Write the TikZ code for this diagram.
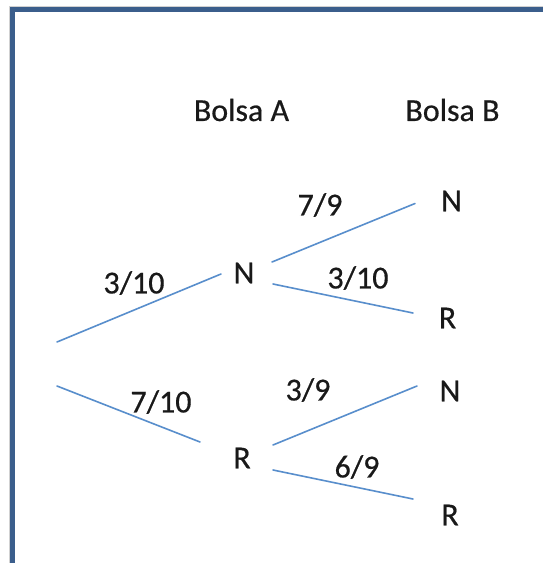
\documentclass[tikz,border=0pt]{standalone}
\usepackage{fontspec}
% regular Carlito, slightly emboldened for the labels
\setmainfont{Carlito}[BoldFont=Carlito, BoldFeatures={FakeBold=0.5}]
\definecolor{framecol}{RGB}{59,94,140}
\definecolor{branchcol}{RGB}{88,142,204}
\definecolor{textcol}{RGB}{25,25,25}
\tikzset{
  lbl/.style={inner sep=0pt, text=textcol, font=\fontsize{32}{38}\selectfont\bfseries},
  branch/.style={draw=branchcol, line width=1.6pt, line cap=round}
}
\begin{document}
\begin{tikzpicture}[x=1pt, y=-1pt]
  \useasboundingbox (0,0) rectangle (543,563);
  \fill[white] (0,0) rectangle (543,563);
  % outer frame: its top and left sides run off the page edges
  \draw[black!18, line width=1pt] (9.5,563) -- (9.5,6) -- (543,6);
  \draw[framecol, line width=5pt] (12.5,563) -- (12.5,9.5) -- (543,9.5);

  % column headings
  \node[lbl] (hA) at (241.5,110) {Bolsa A};
  \node[lbl] (hB) at (452.5,110) {Bolsa B};

  % outcomes
  \node[lbl] (aN) at (244,273) {N};
  \node[lbl] (aR) at (242,458) {R};
  \node[lbl] (bNN) at (451.5,201) {N};
  \node[lbl] (bNR) at (447.5,318) {R};
  \node[lbl] (bRN) at (450,391) {N};
  \node[lbl] (bRR) at (450,515) {R};

  % branch end points
  \coordinate (r1) at (57,342);
  \coordinate (r2) at (57,386);
  \coordinate (aNin) at (221,274);
  \coordinate (aRin) at (200,442);
  \coordinate (aNo1) at (272,262);
  \coordinate (aNo2) at (273,284);
  \coordinate (aRo1) at (273,445);
  \coordinate (aRo2) at (273,470);
  \coordinate (bNNin) at (415,203.5);
  \coordinate (bNRin) at (413,313);
  \coordinate (bRNin) at (417,386);
  \coordinate (bRRin) at (413,499);

  % branches
  \draw[branch] (r1) -- (aNin);
  \draw[branch] (r2) -- (aRin);
  \draw[branch] (aNo1) -- (bNNin);
  \draw[branch] (aNo2) -- (bNRin);
  \draw[branch] (aRo1) -- (bRNin);
  \draw[branch] (aRo2) -- (bRRin);

  % probabilities
  \node[lbl] (p1) at (134,283) {3/10};
  \node[lbl] (p2) at (161,402) {7/10};
  \node[lbl] (p3) at (320,205) {7/9};
  \node[lbl] (p4) at (358,278) {3/10};
  \node[lbl] (p5) at (308,390) {3/9};
  \node[lbl] (p6) at (357,467) {6/9};
\end{tikzpicture}
\end{document}
